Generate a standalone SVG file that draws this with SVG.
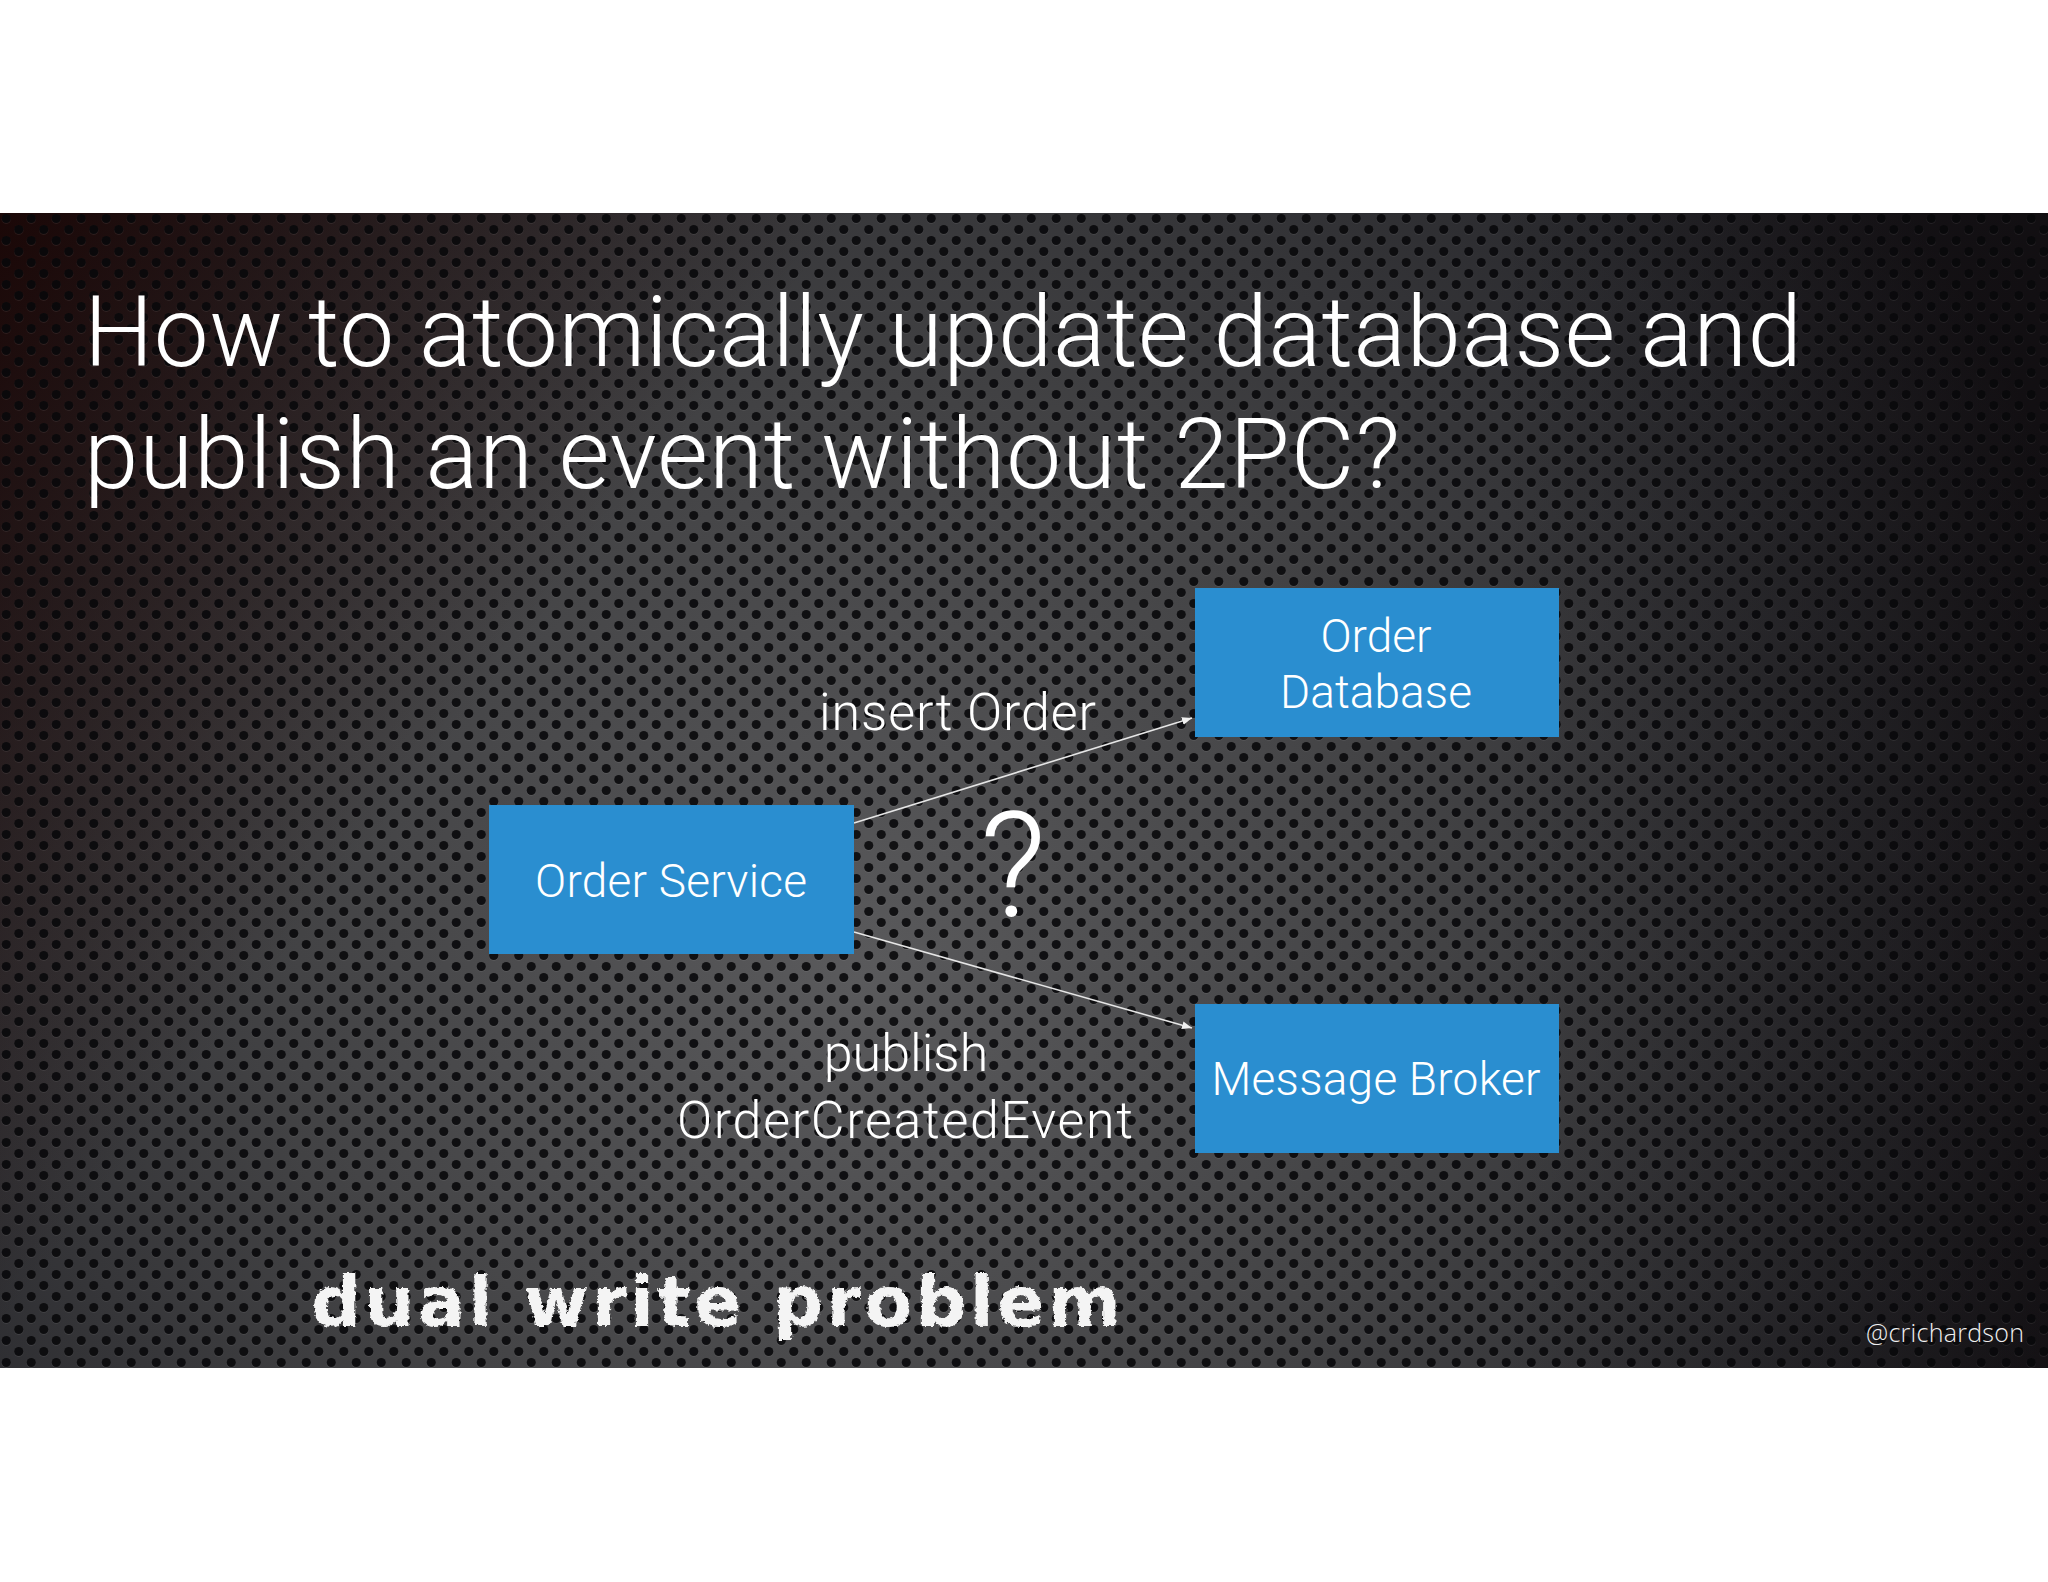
<svg xmlns="http://www.w3.org/2000/svg" width="2048" height="1582" viewBox="0 0 2048 1582">
  <style>
    .title { font-family: Roboto, "Liberation Sans", Arial, sans-serif; font-weight: 300; font-size: 98px; fill: #ffffff; }
    .node-rect { fill: #2a8ed0; }
    .node-text { font-family: Roboto, "Liberation Sans", Arial, sans-serif; font-weight: 300; font-size: 46px; fill: #ffffff; text-anchor: middle; }
    .edge-text { font-family: Roboto, "Liberation Sans", Arial, sans-serif; font-weight: 300; font-size: 52px; fill: #ffffff; }
    .edge { stroke: #e6e6e6; stroke-width: 1.6; fill: none; marker-end: url(#arrow); }
    .chalk { font-family: "DejaVu Sans", "Liberation Sans", sans-serif; font-weight: bold; font-size: 70px; fill: #f4f4f4; }
    .handle { font-family: "Open Sans", "Liberation Sans", sans-serif; font-weight: 300; font-size: 25px; fill: #f0f0f0; }
  </style>
  <defs>
    <radialGradient id="bgGrad" cx="860" cy="980" r="1300" gradientUnits="userSpaceOnUse">
      <stop offset="0" stop-color="#5a5a5c"/>
      <stop offset="0.45" stop-color="#424244"/>
      <stop offset="0.8" stop-color="#2a2a2e"/>
      <stop offset="1" stop-color="#18161a"/>
    </radialGradient>
    <linearGradient id="tlTint" x1="0" y1="213" x2="900" y2="900" gradientUnits="userSpaceOnUse">
      <stop offset="0" stop-color="#1a0504" stop-opacity="0.9"/>
      <stop offset="0.6" stop-color="#1a0504" stop-opacity="0"/>
    </linearGradient>
    <linearGradient id="rTint" x1="2048" y1="0" x2="1500" y2="0" gradientUnits="userSpaceOnUse">
      <stop offset="0" stop-color="#0a0608" stop-opacity="0.45"/>
      <stop offset="1" stop-color="#0a0608" stop-opacity="0"/>
    </linearGradient>
    <pattern id="holes" x="0" y="213" width="25" height="22" patternUnits="userSpaceOnUse">
      <circle cx="6.25" cy="6.3" r="4.7" fill="#ffffff" fill-opacity="0.07"/>
      <circle cx="18.75" cy="17.3" r="4.7" fill="#ffffff" fill-opacity="0.07"/>
      <circle cx="6.25" cy="5.5" r="4.6" fill="#060608" fill-opacity="0.88"/>
      <circle cx="18.75" cy="16.5" r="4.6" fill="#060608" fill-opacity="0.88"/>
      <circle cx="-6.25" cy="16.5" r="4.6" fill="#060608" fill-opacity="0.88"/>
      <circle cx="31.25" cy="16.5" r="4.6" fill="#060608" fill-opacity="0.88"/>
    </pattern>
    <marker id="arrow" viewBox="0 0 10 8" refX="10" refY="4" markerWidth="10" markerHeight="8" markerUnits="userSpaceOnUse" orient="auto">
      <path d="M0,0 L10,4 L0,8 Z" fill="#f0f0f0"/>
    </marker>
    <filter id="rough" x="-5%" y="-20%" width="110%" height="140%">
      <feTurbulence type="fractalNoise" baseFrequency="0.25" numOctaves="2" seed="3" result="n"/>
      <feDisplacementMap in="SourceGraphic" in2="n" scale="5" xChannelSelector="R" yChannelSelector="G"/>
    </filter>
  </defs>

  <!-- page -->
  <rect x="0" y="0" width="2048" height="1582" fill="#ffffff"/>

  <!-- dark perforated band -->
  <g id="background">
    <rect x="0" y="213" width="2048" height="1155" fill="url(#bgGrad)"/>
    <rect x="0" y="213" width="2048" height="1155" fill="url(#tlTint)"/>
    <rect x="0" y="213" width="2048" height="1155" fill="url(#rTint)"/>
    <rect x="0" y="213" width="2048" height="1155" fill="url(#holes)"/>
  </g>

  <!-- title -->
  <g id="title">
    <text class="title" x="84" y="366" textLength="1718">How to atomically update database and</text>
    <text class="title" x="84" y="488" textLength="1316">publish an event without 2PC?</text>
  </g>

  <!-- connectors -->
  <g id="connectors">
    <line class="edge" x1="854" y1="823" x2="1192" y2="718"/>
    <line class="edge" x1="854" y1="932" x2="1192" y2="1028"/>
    <text class="edge-text" x="819" y="730" textLength="277">insert Order</text>
    <text class="edge-text" x="906" y="1071" text-anchor="middle">publish</text>
    <text class="edge-text" x="905" y="1138" text-anchor="middle" textLength="456">OrderCreatedEvent</text>
  </g>

  <!-- nodes -->
  <g id="order-service">
    <rect class="node-rect" x="489" y="805" width="365" height="149"/>
    <text class="node-text" x="671" y="897" textLength="272">Order Service</text>
  </g>
  <g id="order-database">
    <rect class="node-rect" x="1195" y="588" width="364" height="149"/>
    <text class="node-text" x="1376" y="652">Order</text>
    <text class="node-text" x="1376" y="708" textLength="192">Database</text>
  </g>
  <g id="message-broker">
    <rect class="node-rect" x="1195" y="1004" width="364" height="149"/>
    <text class="node-text" x="1376" y="1095" textLength="329">Message Broker</text>
  </g>

  <!-- question mark -->
  <text id="question" x="1013" y="916" text-anchor="middle" style="font-family: Roboto, 'Liberation Sans', sans-serif; font-weight: 300; font-size: 146px; fill: #ffffff;">?</text>

  <!-- handwritten note -->
  <text id="dual-write" class="chalk" x="311" y="1326" textLength="810" filter="url(#rough)">dual write problem</text>

  <!-- handle -->
  <text id="handle" class="handle" x="1866" y="1342" textLength="158">@crichardson</text>
</svg>
